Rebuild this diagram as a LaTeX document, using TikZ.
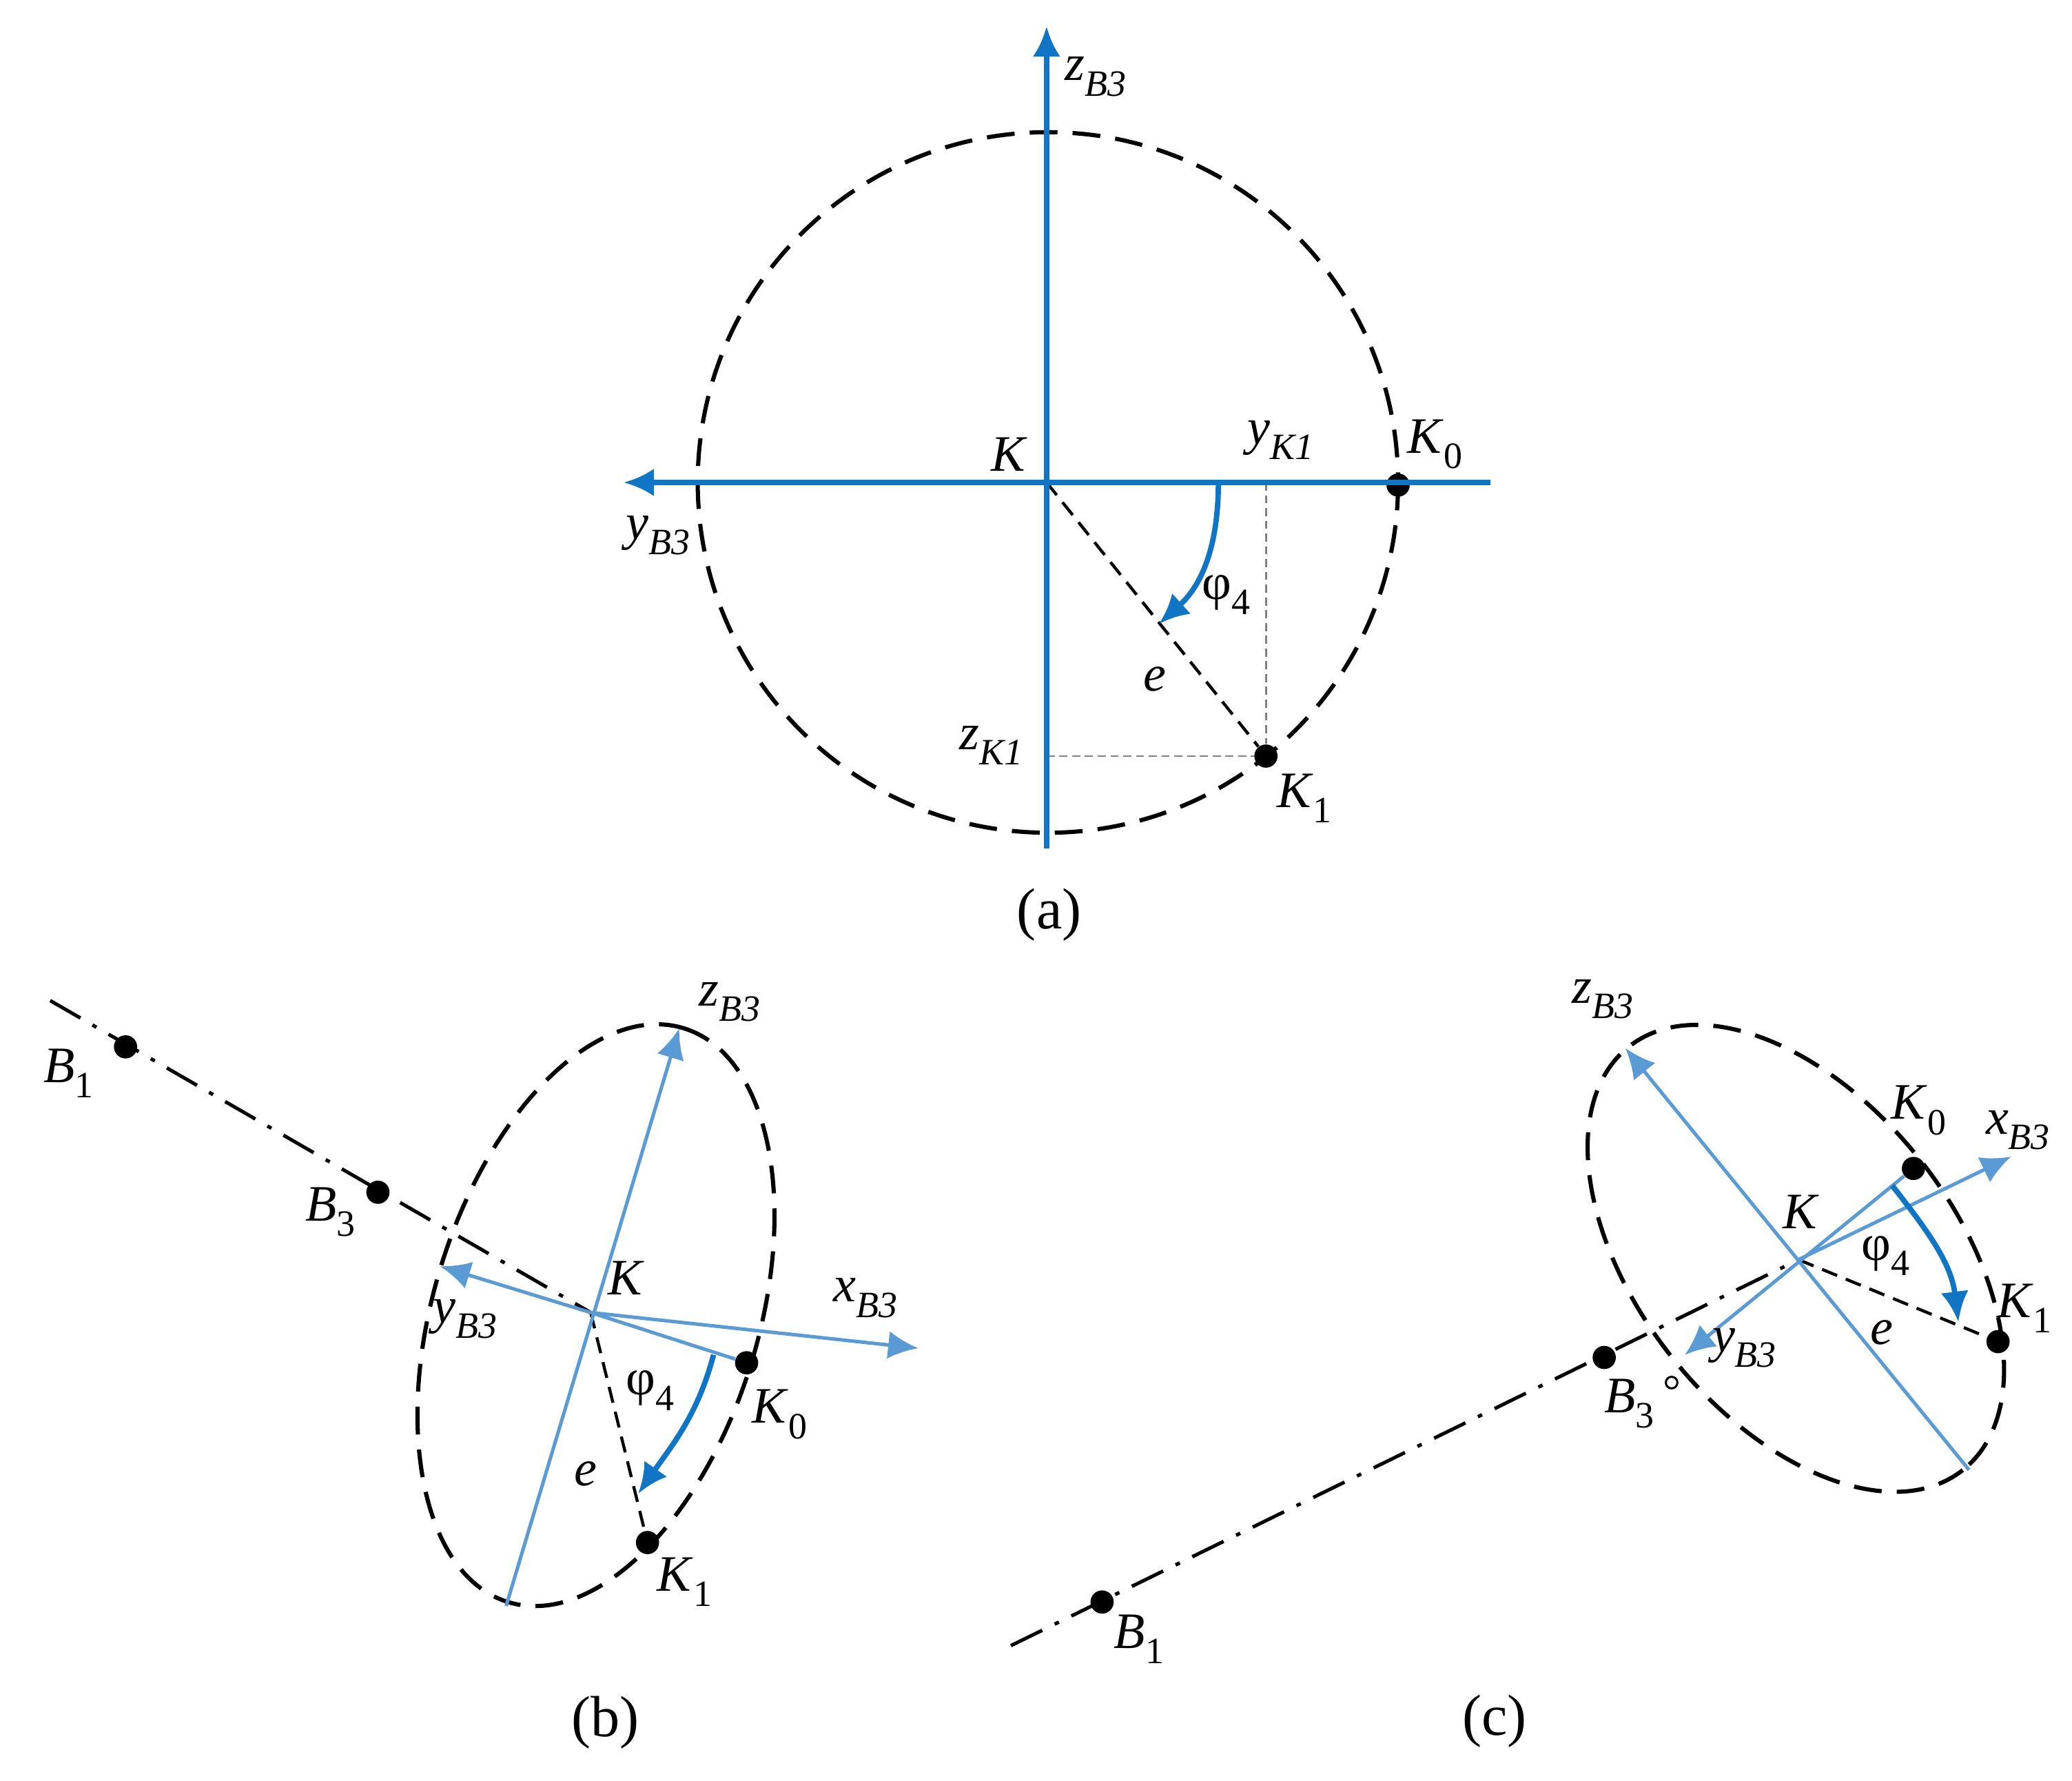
\documentclass[tikz,border=0pt]{standalone}
\usepackage{fontspec}
\setmainfont{Liberation Serif}
\usetikzlibrary{arrows.meta}
\definecolor{dkblue}{HTML}{0F75C4}
\definecolor{ltblue}{HTML}{5B9BD5}
\newcommand{\vsub}[2]{\textit{#1}\raisebox{-0.3em}{\fontsize{16}{16}\selectfont\textit{#2}}}
\newcommand{\usub}[2]{\textit{#1}\raisebox{-0.3em}{\fontsize{16}{16}\selectfont #2}}
\newcommand{\phisub}{φ\raisebox{-0.3em}{\fontsize{16}{16}\selectfont 4}}
\tikzset{
  lab/.style={inner sep=0pt,font=\fontsize{22}{24}\selectfont},
  figcap/.style={inner sep=0pt,font=\fontsize{25}{27}\selectfont},
  ptdot/.style={circle,fill=black,inner sep=0pt,minimum size=10pt},
  rim/.style={black,line width=1.8pt,dash pattern=on 12pt off 6.5pt},
  radiusline/.style={black,line width=1.3pt,dash pattern=on 7pt off 4pt},
  thindash/.style={gray,line width=0.8pt,dash pattern=on 3.5pt off 2pt},
  centreline/.style={black,line width=1.5pt,dash pattern=on 15pt off 6pt on 2pt off 6pt},
  axisdark/.style={dkblue,line width=2.3pt,-{Latex[length=13pt,width=12pt]}},
  axislight/.style={ltblue,line width=1.5pt,-{Latex[length=13pt,width=12pt]}},
  axislightplain/.style={ltblue,line width=1.5pt},
  anglearrow/.style={dkblue,line width=2.3pt,-{Latex[length=13pt,width=12pt]}},
}
\begin{document}
\begin{tikzpicture}[x=0.02cm,y=-0.02cm]
\useasboundingbox (0,0) rectangle (1568,1347.4);
%% Panel (a)
\coordinate (aK) at (792,365);
\coordinate (azT) at (792,20);
\coordinate (azB) at (792,642);
\coordinate (ayL) at (472,365);
\coordinate (ayR) at (1128,365);
\coordinate (aAs) at (922,365);
\coordinate (aAe) at (877,472);
\coordinate (aFy) at (958,365);
\coordinate (aFz) at (792,572);
\draw[rim] (793,365) circle [x radius=265,y radius=265];
\node[ptdot] (aK0) at (1058,367) {};
\node[ptdot] (aK1) at (958,572) {};
\draw[radiusline] (aK) -- (aK1);
\draw[thindash] (aFy) -- (aK1);
\draw[thindash] (aFz) -- (aK1);
\draw[axisdark] (azB) -- (azT);
\draw[axisdark] (ayR) -- (ayL);
\draw[anglearrow] (aAs) to[out=-90,in=42] (aAe);
\node[lab] (az) at (829,58) {\vsub{z}{B3}};
\node[lab] (aKl) at (764,344) {\textit{K}};
\node[lab] (ayk) at (969,333) {\vsub{y}{K1}};
\node[lab] (aK0l) at (1086,336) {\usub{K}{0}};
\node[lab] (ayb) at (498,405) {\vsub{y}{B3}};
\node[lab] (aphi) at (928,450) {\phisub};
\node[lab] (ae) at (874,514) {\textit{e}};
\node[lab] (azk) at (750,564) {\vsub{z}{K1}};
\node[lab] (aK1l) at (987,604) {\usub{K}{1}};
\node[figcap] (acap) at (794,692) {(a)};
%% Panel (b)
\coordinate (bK) at (447,993);
\coordinate (bLs) at (38,757);
\coordinate (bzT) at (514,778);
\coordinate (bzB) at (383,1215);
\coordinate (byE) at (333,958);
\coordinate (bxE) at (695,1020);
\coordinate (bAs) at (540,1025);
\coordinate (bAe) at (483,1130);
\draw[rim] (451,995) circle [x radius=227,y radius=123,rotate=73];
\node[ptdot] (bB1) at (95,792) {};
\node[ptdot] (bB3) at (286,902) {};
\node[ptdot] (bK0) at (565,1031) {};
\node[ptdot] (bK1) at (490,1167) {};
\draw[centreline] (bLs) -- (bK);
\draw[radiusline] (bK) -- (bK1);
\draw[axislight] (bzB) -- (bzT);
\draw[axislight] (bK) -- (byE);
\draw[axislight] (bK) -- (bxE);
\draw[axislightplain] (bK) -- (bK0);
\draw[anglearrow] (bAs) to[out=-105,in=55] (bAe);
\node[lab] (bz) at (552,758) {\vsub{z}{B3}};
\node[lab] (bB1l) at (52,812) {\usub{B}{1}};
\node[lab] (bB3l) at (250,917) {\usub{B}{3}};
\node[lab] (bKl) at (474,967) {\textit{K}};
\node[lab] (by) at (352,998) {\vsub{y}{B3}};
\node[lab] (bx) at (655,982) {\vsub{x}{B3}};
\node[lab] (bphi) at (492,1052) {\phisub};
\node[lab] (bK0l) at (590,1070) {\usub{K}{0}};
\node[lab] (be) at (443,1115) {\textit{e}};
\node[lab] (bK1l) at (518,1197) {\usub{K}{1}};
\node[figcap] (bcap) at (458,1303) {(b)};
%% Panel (c)
\coordinate (cK) at (1361,953);
\coordinate (cLs) at (765,1245);
\coordinate (czT) at (1230,793);
\coordinate (czB) at (1490,1112);
\coordinate (cxE) at (1522,875);
\coordinate (cyE) at (1275,1025);
\coordinate (cAs) at (1432,897);
\coordinate (cAe) at (1482,1000);
\draw[rim] (1359,952) circle [x radius=204,y radius=120,rotate=-51.75];
\node[ptdot] (cB1) at (834,1212) {};
\node[ptdot] (cB3) at (1214,1027) {};
\node[ptdot] (cK0) at (1448,884) {};
\node[ptdot] (cK1) at (1512,1015) {};
\node[circle,draw=black,line width=0.9pt,inner sep=0pt,minimum size=5pt] (cO) at (1265,1046) {};
\draw[centreline] (cLs) -- (cK);
\draw[radiusline] (cK) -- (cK1);
\draw[axislight] (czB) -- (czT);
\draw[axislight] (cK) -- (cxE);
\draw[axislight] (cK0) -- (cyE);
\draw[anglearrow] (cAs) to[out=-52,in=97] (cAe);
\node[lab] (cz) at (1213,756) {\vsub{z}{B3}};
\node[lab] (cK0l) at (1452,840) {\usub{K}{0}};
\node[lab] (cx) at (1527,855) {\vsub{x}{B3}};
\node[lab] (cKl) at (1363,917) {\textit{K}};
\node[lab] (cphi) at (1427,950) {\phisub};
\node[lab] (cK1l) at (1532,990) {\usub{K}{1}};
\node[lab] (cy) at (1320,1020) {\vsub{y}{B3}};
\node[lab] (ce) at (1424,1008) {\textit{e}};
\node[lab] (cB3l) at (1233,1062) {\usub{B}{3}};
\node[lab] (cB1l) at (862,1240) {\usub{B}{1}};
\node[figcap] (ccap) at (1131,1302) {(c)};
\end{tikzpicture}
\end{document}
